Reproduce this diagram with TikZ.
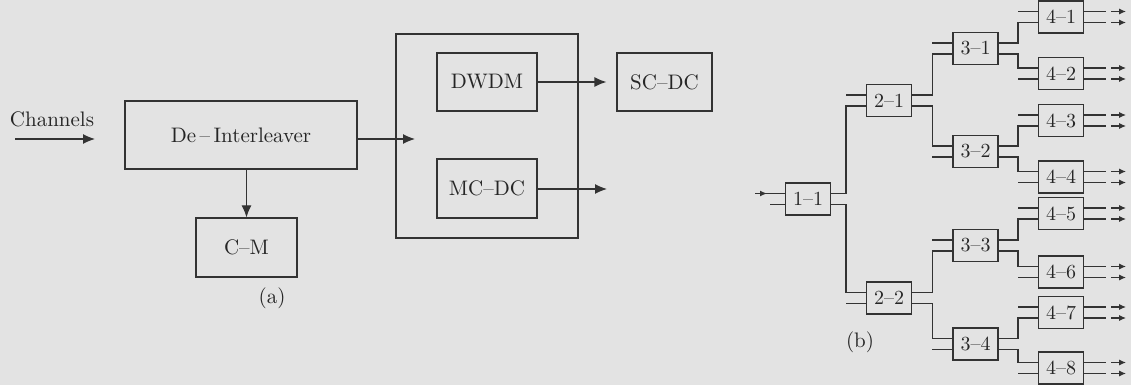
\documentclass[tikz,border=0pt]{standalone}
\usepackage{tikz}
\usetikzlibrary{calc,arrows.meta}

\begin{document}
\begin{tikzpicture}[x=0.5pt,y=-0.5pt, line width=0.6pt, draw=black!80, text=black!85,
    big/.style={-{Latex[length=6pt,width=5pt]}},
    tip/.style={-{Latex[length=3.5pt,width=3pt]}},
    blk/.style={draw, rectangle, inner sep=0pt, font=\fontsize{10.5}{12}\selectfont},
    sw/.style={draw, rectangle, inner sep=0pt, minimum width=22.5pt, minimum height=16pt, font=\fontsize{10}{12}\selectfont}]
    \fill[gray!22] (0,0) rectangle (1131,385);
    \useasboundingbox (0,0) rectangle (1131,385);

    % (a)
    \node (chan) [font=\fontsize{10.5}{12}\selectfont] at (52,119) {Channels};
    \coordinate (chin) at (15,139);
    \coordinate (chout) at (95,139);
    \node (deint) [blk, minimum width=116pt, minimum height=34pt] at (241,135) {De\,--\,Interleaver};
    \node (cm) [blk, minimum width=50.5pt, minimum height=29.5pt] at (246.5,247.5) {C--M};
    \node (grp) [draw, minimum width=91pt, minimum height=102pt] at (487,136) {};
    \node (dwdm) [blk, minimum width=50pt, minimum height=29pt] at (487,82) {DWDM};
    \node (mcdc) [blk, minimum width=50pt, minimum height=29.5pt] at (487,188.5) {MC--DC};
    \node (scdc) [blk, minimum width=47.5pt, minimum height=29pt] at (664.5,82) {SC--DC};
    \coordinate (grpin) at (415,139);
    \coordinate (mcout) at (607,189);
    \node (laba) [font=\fontsize{10.5}{12}\selectfont] at (272,298) {(a)};

    \draw[big] (chin) -- (chout);
    \draw[big] (deint.east |- grpin) -- (grpin);
    \draw[big] (deint.south -| cm) -- (cm);
    \draw[big] (dwdm) -- ($(scdc.west)+(-10,0)$);
    \draw[big] (mcdc.east |- mcout) -- (mcout);

    % (b)
    \node (b11) [sw] at (808,199) {1--1};
    \node (b21) [sw] at (889,100.5) {2--1};
    \node (b22) [sw] at (889,298) {2--2};
    \node (b31) [sw] at (975.5,48.5) {3--1};
    \node (b32) [sw] at (975.5,151.5) {3--2};
    \node (b33) [sw] at (975.5,245.5) {3--3};
    \node (b34) [sw] at (975.5,344) {3--4};
    \node (b41) [sw] at (1061,17) {4--1};
    \node (b42) [sw] at (1061,73.5) {4--2};
    \node (b43) [sw] at (1061,120.5) {4--3};
    \node (b44) [sw] at (1061,177) {4--4};
    \node (b45) [sw] at (1061,213.5) {4--5};
    \node (b46) [sw] at (1061,272) {4--6};
    \node (b47) [sw] at (1061,312.5) {4--7};
    \node (b48) [sw] at (1061,368) {4--8};
    \node (labb) [font=\fontsize{10.5}{12}\selectfont] at (860,342) {(b)};

    \coordinate (in11) at (755,193.5);
    \draw[tip] (in11) -- ++(12,0);
    \draw (in11) -- ($(b11.west)+(0,-5.5)$);
    \draw ($(b11.west)+(0,5.5)$) -- ++(-15,0);

    \foreach \p/\u/\l in {b11/b21/b22, b21/b31/b32, b22/b33/b34,
                          b31/b41/b42, b32/b43/b44, b33/b45/b46, b34/b47/b48} {
        \draw ($(\p.east)+(0,-5.5)$) -| ($(\u.west)+(-20,5.5)$) -- ($(\u.west)+(0,5.5)$);
        \draw ($(\p.east)+(0,5.5)$) -| ($(\l.west)+(-20,-5.5)$) -- ($(\l.west)+(0,-5.5)$);
        \draw ($(\u.west)+(0,-5.5)$) -- ++(-20,0);
        \draw ($(\l.west)+(0,5.5)$) -- ++(-20,0);
    }

    \foreach \n in {b41,b42,b43,b44,b45,b46,b47,b48} {
        \foreach \d in {-5.5,5.5} {
            \draw ($(\n.east)+(0,\d)$) -- ++(22,0);
            \draw[tip] ($(\n.east)+(27,\d)$) -- ++(15,0);
        }
    }
\end{tikzpicture}
\end{document}
